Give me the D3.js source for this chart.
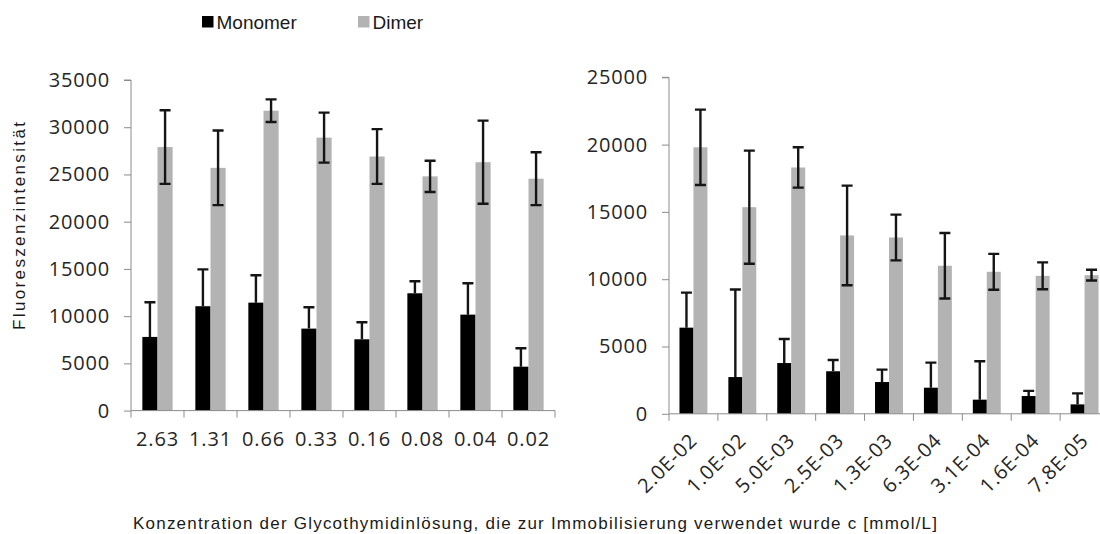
<!DOCTYPE html>
<html>
<head>
<meta charset="utf-8">
<script src="https://cdn.jsdelivr.net/npm/d3@7"></script>
<style>
  html, body { margin: 0; padding: 0; background: #fff; }
  svg { display: block; }
  .tick-label { font-family: "Open Sans", sans-serif; font-size: 20px; fill: #262626; letter-spacing: 0.8px; }
  .title { font-family: "Liberation Sans", Arial, sans-serif; fill: #1a1a1a; }
</style>
</head>
<body>
<svg id="chart" width="1100" height="534"></svg>
<script>
// ---- Data ----
const seriesNames = ["Monomer", "Dimer"];

const leftCategories = ["2.63", "1.31", "0.66", "0.33", "0.16", "0.08", "0.04", "0.02"];
const leftMonomer    = [7800, 11050, 11430, 8680, 7550, 12420, 10160, 4650];
const leftMonomerErr = [3670, 3900, 2900, 2260, 1800, 1270, 3320, 1950];
const leftDimer      = [27900, 25700, 31750, 28900, 26900, 24800, 26300, 24550];
const leftDimerErr   = [3900, 3950, 1200, 2650, 2900, 1650, 4400, 2800];
const leftTicks      = [0, 5000, 10000, 15000, 20000, 25000, 30000, 35000];

const rightCategories = ["2.0E-02", "1.0E-02", "5.0E-03", "2.5E-03", "1.3E-03", "6.3E-04", "3.1E-04", "1.6E-04", "7.8E-05"];
const rightMonomer    = [6400, 2730, 3770, 3160, 2360, 1940, 1050, 1320, 700];
const rightMonomerErr = [2600, 6500, 1790, 840, 920, 1860, 2850, 380, 820];
const rightDimer      = [19800, 15350, 18300, 13250, 13100, 11000, 10550, 10250, 10300];
const rightDimerErr   = [2800, 4200, 1500, 3700, 1700, 2430, 1330, 1000, 400];
const rightTicks      = [0, 5000, 10000, 15000, 20000, 25000];

const yTitle = "Fluoreszenzintensität";
const xTitle = "Konzentration der Glycothymidinlösung, die zur Immobilisierung verwendet wurde c [mmol/L]";

// ---- Styles ----
const colors = { Monomer: "#000000", Dimer: "#b3b3b3" };
const axisColor = "#8c8c8c";
const errColor = "#151515";

const svg = d3.select("#chart");

function drawPanel(cfg) {
  const g = svg.append("g");
  const x = d3.scaleBand().domain(cfg.categories).range(cfg.xRange).paddingInner(0).paddingOuter(0);
  const xs = d3.scaleBand().domain(seriesNames).range([0, x.bandwidth()]).paddingInner(0).paddingOuter(0.75);
  const y = d3.scaleLinear().domain(cfg.yDomain).range(cfg.yRange);

  const rows = cfg.categories.map((c, i) => ({
    cat: c,
    Monomer: cfg.mono[i], MonomerErr: cfg.monoErr[i],
    Dimer: cfg.dim[i], DimerErr: cfg.dimErr[i]
  }));

  // y axis
  const yAxis = d3.axisLeft(y).tickValues(cfg.ticks).tickSize(7).tickPadding(14).tickFormat(d3.format("d"));
  const ya = g.append("g").attr("transform", `translate(${cfg.xRange[0]},0)`).call(yAxis);
  ya.select(".domain").attr("stroke", axisColor).attr("d", `M-7,${y(cfg.yDomain[1])}H0V${y(0)}`);
  ya.selectAll(".tick line").attr("stroke", axisColor);
  ya.selectAll(".tick text").attr("class", "tick-label").attr("font-size", null).attr("font-family", null).attr("fill", null);

  // bars
  const groups = g.append("g").selectAll("g").data(rows).join("g")
    .attr("transform", d => `translate(${x(d.cat)},0)`);
  seriesNames.forEach(s => {
    groups.append("rect")
      .attr("x", xs(s))
      .attr("width", xs.bandwidth())
      .attr("y", d => y(d[s]))
      .attr("height", d => y(0) - y(d[s]))
      .attr("fill", colors[s]);
  });

  // error bars
  const cap = 5.5;
  seriesNames.forEach(s => {
    const cx = xs(s) + xs.bandwidth() / 2;
    const eb = groups.append("g").attr("stroke", errColor).attr("stroke-width", 2.4).attr("fill", "none");
    if (s === "Monomer") {
      eb.append("path").attr("d", d => {
        const t = y(d[s] + d[s + "Err"]);
        return `M${cx},${y(d[s])}V${t}M${cx - cap},${t}H${cx + cap}`;
      });
    } else {
      eb.append("path").attr("d", d => {
        const t = y(d[s] + d[s + "Err"]);
        const b = y(d[s] - d[s + "Err"]);
        return `M${cx},${b}V${t}M${cx - cap},${t}H${cx + cap}M${cx - cap},${b}H${cx + cap}`;
      });
    }
  });

  // x axis
  const xa = g.append("g").attr("transform", `translate(0,${y(0)})`);
  xa.append("path").attr("d", `M${cfg.xRange[0]},0H${cfg.xRange[1]}`).attr("stroke", axisColor).attr("fill", "none");
  const bounds = cfg.categories.map(c => x(c)).concat([cfg.xRange[1]]);
  xa.selectAll("line.tk").data(bounds).join("line").attr("class", "tk")
    .attr("x1", d => d).attr("x2", d => d).attr("y1", 0).attr("y2", 7)
    .attr("stroke", axisColor);

  const labels = xa.selectAll("text").data(cfg.categories).join("text").attr("class", "tick-label");
  if (cfg.rotate) {
    labels.attr("text-anchor", "end")
      .attr("transform", c => `translate(${x(c) + x.bandwidth() / 2 + 5},${cfg.labelDy}) rotate(-45)`)
      .text(c => c);
  } else {
    labels.attr("text-anchor", "middle")
      .attr("x", c => x(c) + x.bandwidth() / 2)
      .attr("y", cfg.labelDy)
      .text(c => c);
  }
  return { x, y };
}

drawPanel({
  categories: leftCategories, mono: leftMonomer, monoErr: leftMonomerErr, dim: leftDimer, dimErr: leftDimerErr,
  ticks: leftTicks, xRange: [131, 555], yDomain: [0, 35000], yRange: [410.6, 80], rotate: false, labelDy: 35
});

drawPanel({
  categories: rightCategories, mono: rightMonomer, monoErr: rightMonomerErr, dim: rightDimer, dimErr: rightDimerErr,
  ticks: rightTicks, xRange: [669, 1109], yDomain: [0, 25000], yRange: [413.8, 77.3], rotate: true, labelDy: 28
});

// legend
const legend = svg.append("g");
const legendItems = [{ name: "Monomer", x: 202 }, { name: "Dimer", x: 358 }];
legendItems.forEach(it => {
  legend.append("rect").attr("x", it.x).attr("y", 16).attr("width", 11.5).attr("height", 11.5).attr("fill", colors[it.name]);
  legend.append("text").attr("class", "title").attr("x", it.x + 14.5).attr("y", 28.5)
    .attr("font-size", 19).text(it.name);
});

// titles
svg.append("text").attr("class", "title")
  .attr("transform", "translate(25,226) rotate(-90)")
  .attr("text-anchor", "middle").attr("font-size", 17)
  .attr("textLength", 208).attr("lengthAdjust", "spacing")
  .text(yTitle);

svg.append("text").attr("class", "title")
  .attr("x", 535).attr("y", 529)
  .attr("text-anchor", "middle").attr("font-size", 17)
  .attr("textLength", 804).attr("lengthAdjust", "spacing")
  .text(xTitle);
</script>
</body>
</html>
